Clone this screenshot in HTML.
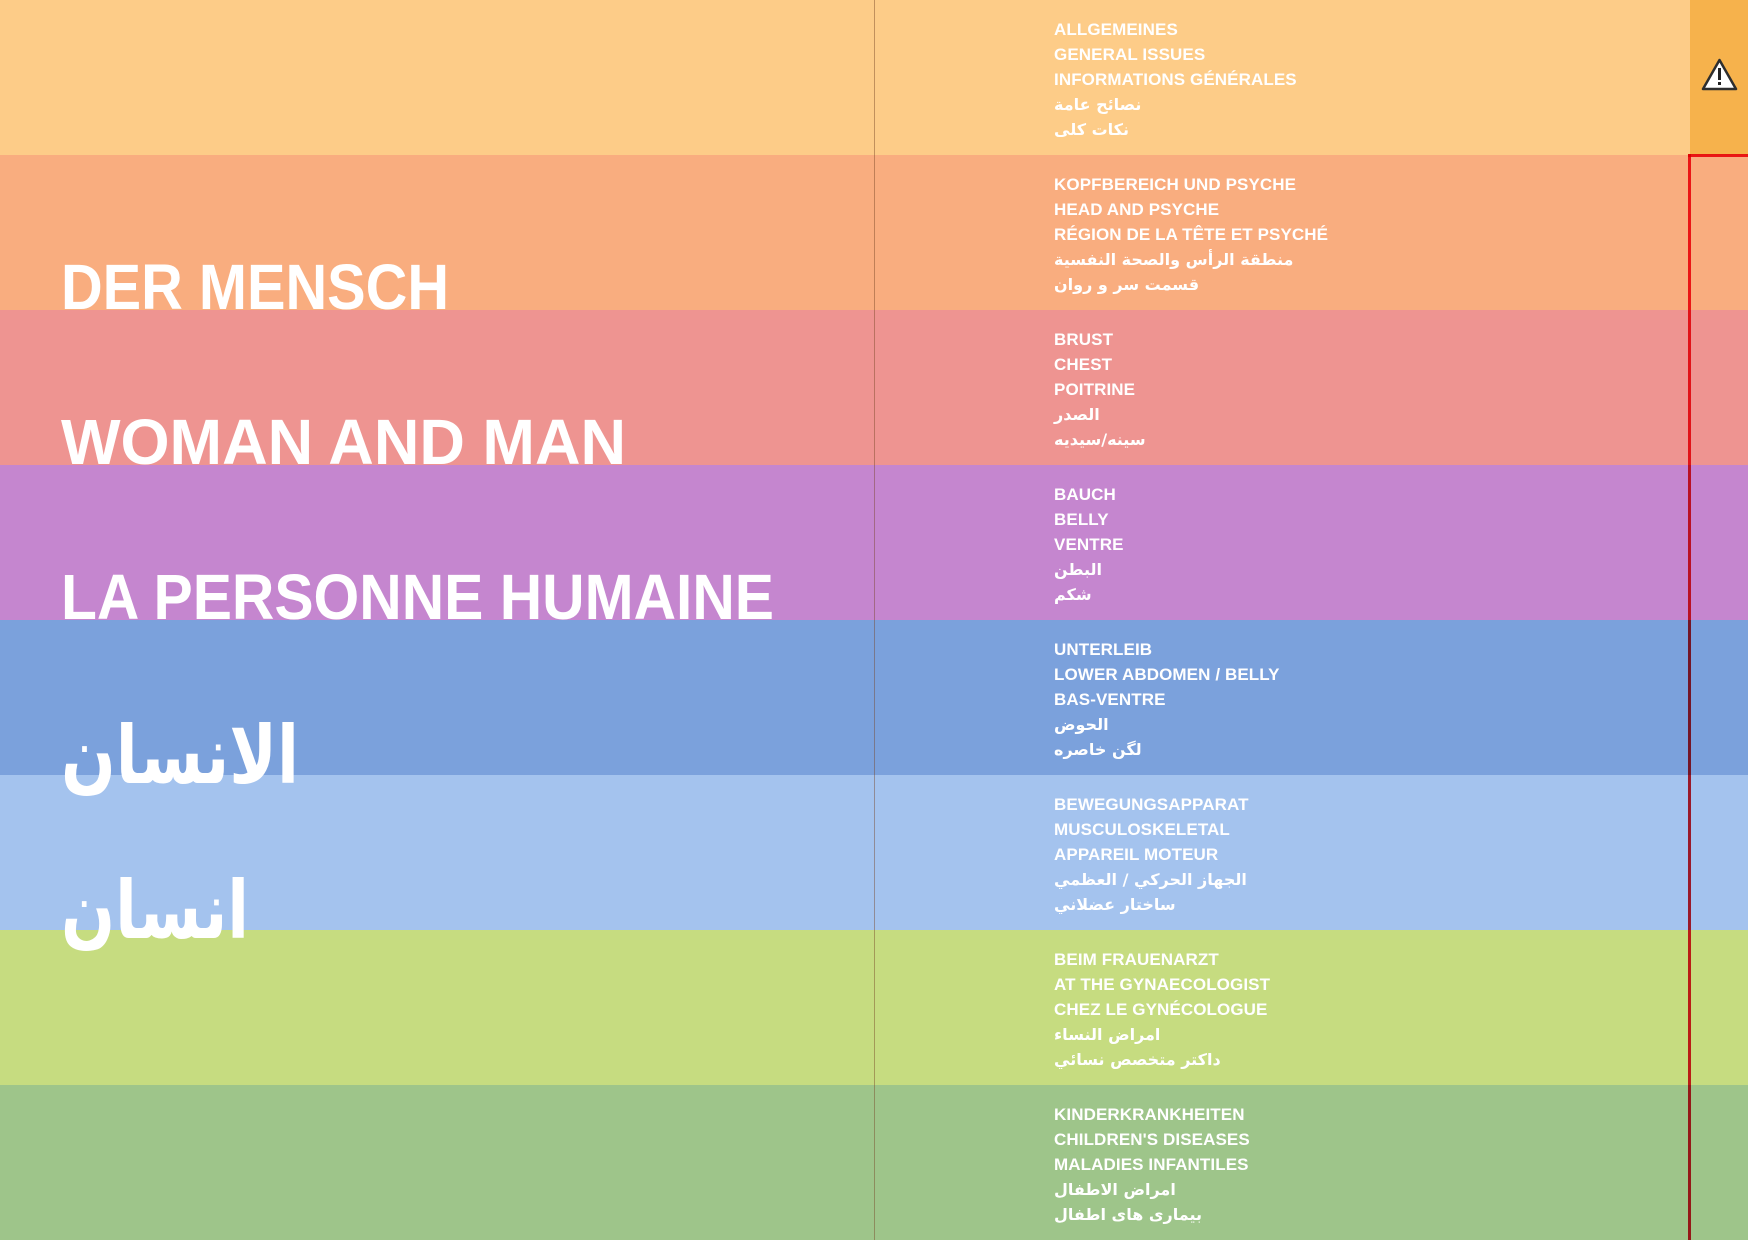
<!DOCTYPE html>
<html>
<head>
<meta charset="utf-8">
<style>
  html, body { margin:0; padding:0; }
  body { width:1748px; height:1240px; position:relative; overflow:hidden; background:#fdcb87; }
  .band { position:absolute; left:0; width:1748px; height:155px; }
  .b1 { top:0;    background:#fdcc88; }
  .b2 { top:155px; background:#f9ad7f; }
  .b3 { top:310px; background:#ee9491; }
  .b4 { top:465px; background:#c586cf; }
  .b5 { top:620px; background:#7ba1dc; }
  .b6 { top:775px; background:#a4c3ee; }
  .b7 { top:930px; background:#c6dc80; }
  .b8 { top:1085px; background:#9ec58a; }
  .corner { position:absolute; left:1690px; top:0; width:58px; height:155px; background:#f6b24c; }
  .vline { position:absolute; left:874px; top:0; width:1px; height:1240px; background:rgba(120,70,40,0.45); }
  .red-v { position:absolute; left:1688px; top:154px; width:3px; height:1086px; background:#f0202c; mix-blend-mode:multiply; }
  .red-h { position:absolute; left:1688px; top:154px; width:60px; height:3px; background:#f0202c; mix-blend-mode:multiply; }
  .txt { position:absolute; left:1054px; color:#fff; font-family:"Liberation Sans", "DejaVu Sans", sans-serif; font-weight:bold; font-size:17px; line-height:25px; letter-spacing:0.1px; white-space:nowrap; }
  .txt .ar { direction:rtl; text-align:left; font-family:"DejaVu Sans", sans-serif; font-weight:bold; letter-spacing:0; font-size:16px; unicode-bidi:embed; }
  svg.ov { position:absolute; left:0; top:0; }
</style>
</head>
<body>
  <div class="band b1"></div>
  <div class="band b2"></div>
  <div class="band b3"></div>
  <div class="band b4"></div>
  <div class="band b5"></div>
  <div class="band b6"></div>
  <div class="band b7"></div>
  <div class="band b8"></div>
  <div class="corner"></div>
  <div class="vline"></div>
  <div class="red-h"></div>
  <div class="red-v"></div>

  <svg class="ov" width="1748" height="1240" viewBox="0 0 1748 1240">
    <g fill="#ffffff" font-family="Liberation Sans, DejaVu Sans, sans-serif" font-weight="bold" font-size="64">
      <text x="61" y="309" textLength="388" lengthAdjust="spacingAndGlyphs">DER MENSCH</text>
      <text x="61" y="464" textLength="565" lengthAdjust="spacingAndGlyphs">WOMAN AND MAN</text>
      <text x="61" y="619" textLength="713" lengthAdjust="spacingAndGlyphs">LA PERSONNE HUMAINE</text>
    </g>
    <g fill="#ffffff" font-family="DejaVu Sans, sans-serif" font-weight="bold" font-size="80">
      <text x="61" y="783" textLength="238" lengthAdjust="spacingAndGlyphs">الانسان</text>
      <text x="61" y="938" textLength="188" lengthAdjust="spacingAndGlyphs">انسان</text>
    </g>
    <!-- warning triangle -->
    <g>
      <polygon points="1719.5,60 1736,89 1703,89" fill="#ffffff" stroke="#2e2e2e" stroke-width="2.5" stroke-linejoin="round"/>
      <rect x="1718" y="68" width="3" height="12" fill="#222"/>
      <rect x="1718" y="82" width="3" height="3" fill="#222"/>
    </g>
  </svg>

  <div class="txt" style="top:17px;">
    <div>ALLGEMEINES</div>
    <div>GENERAL ISSUES</div>
    <div>INFORMATIONS GÉNÉRALES</div>
    <div class="ar">نصائح عامة</div>
    <div class="ar">نکات کلی</div>
  </div>
  <div class="txt" style="top:172px;">
    <div>KOPFBEREICH UND PSYCHE</div>
    <div>HEAD AND PSYCHE</div>
    <div>RÉGION DE LA TÊTE ET PSYCHÉ</div>
    <div class="ar">منطقة الرأس والصحة النفسية</div>
    <div class="ar">قسمت سر و روان</div>
  </div>
  <div class="txt" style="top:327px;">
    <div>BRUST</div>
    <div>CHEST</div>
    <div>POITRINE</div>
    <div class="ar">الصدر</div>
    <div class="ar">سينه/سيديه</div>
  </div>
  <div class="txt" style="top:482px;">
    <div>BAUCH</div>
    <div>BELLY</div>
    <div>VENTRE</div>
    <div class="ar">البطن</div>
    <div class="ar">شکم</div>
  </div>
  <div class="txt" style="top:637px;">
    <div>UNTERLEIB</div>
    <div>LOWER ABDOMEN / BELLY</div>
    <div>BAS-VENTRE</div>
    <div class="ar">الحوض</div>
    <div class="ar">لگن خاصره</div>
  </div>
  <div class="txt" style="top:792px;">
    <div>BEWEGUNGSAPPARAT</div>
    <div>MUSCULOSKELETAL</div>
    <div>APPAREIL MOTEUR</div>
    <div class="ar">الجهاز الحركي / العظمي</div>
    <div class="ar">ساختار عضلاني</div>
  </div>
  <div class="txt" style="top:947px;">
    <div>BEIM FRAUENARZT</div>
    <div>AT THE GYNAECOLOGIST</div>
    <div>CHEZ LE GYNÉCOLOGUE</div>
    <div class="ar">امراض النساء</div>
    <div class="ar">داكتر متخصص نسائي</div>
  </div>
  <div class="txt" style="top:1102px;">
    <div>KINDERKRANKHEITEN</div>
    <div>CHILDREN'S DISEASES</div>
    <div>MALADIES INFANTILES</div>
    <div class="ar">امراض الاطفال</div>
    <div class="ar">بيماری های اطفال</div>
  </div>
</body>
</html>
